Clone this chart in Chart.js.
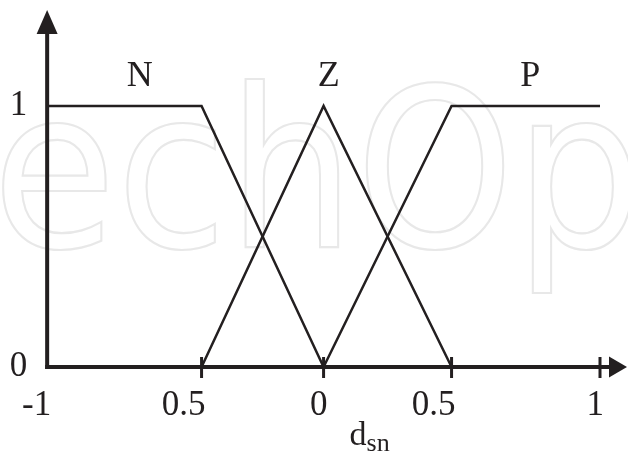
<!DOCTYPE html>
<html>
<head>
<meta charset="utf-8">
<script src="https://cdn.jsdelivr.net/npm/chart.js@4/dist/chart.umd.min.js"></script>
<style>
  html, body { margin: 0; padding: 0; background: #ffffff; }
  #wrap { width: 628px; height: 457px; }
</style>
</head>
<body>
<div id="wrap"><canvas id="c"></canvas></div>
<script>
// Fuzzy membership functions N, Z, P over the normalised distance d_sn
const xTicks = [-1, -0.5, 0, 0.5, 1];
const xTickLabels = ['-1', '0.5', '0', '0.5', '1'];
const yTicks = [0, 1];
const yTickLabels = ['0', '1'];

const setNames = ['N', 'Z', 'P'];
const nX = [-1, -0.5, 0];
const nY = [1, 1, 0];
const zX = [-0.5, 0, 0.5];
const zY = [0, 1, 0];
const pX = [0, 0.5, 1];
const pY = [0, 1, 1];

// Where each set's name sits along the axis (data units)
const nameAt = [-0.70, 0.02, 0.765];

// The hand-drawn axis does not space its ticks evenly; fraction of the
// axis length at which each entry of xTicks is placed.
const tickPlacement = [0, 0.2793, 0.5, 0.7315, 1];

const INK = '#231f20';
const SERIF = '"Liberation Serif", "Times New Roman", serif';

const LinearBase = Chart.LinearScale || Chart.registry.getScale('linear');

class SketchAxisScale extends LinearBase {
  static id = 'sketchAxis';
  static defaults = LinearBase.defaults;

  _toDecimal(value) {
    const v = xTicks, f = tickPlacement, n = v.length - 1;
    let i = 0;
    while (i < n - 1 && value > v[i + 1]) i++;
    const t = (value - v[i]) / (v[i + 1] - v[i]);
    return f[i] + t * (f[i + 1] - f[i]);
  }
  _fromDecimal(dec) {
    const v = xTicks, f = tickPlacement, n = v.length - 1;
    let i = 0;
    while (i < n - 1 && dec > f[i + 1]) i++;
    const t = (dec - f[i]) / (f[i + 1] - f[i]);
    return v[i] + t * (v[i + 1] - v[i]);
  }
  getPixelForValue(value) {
    if (value === null || value === undefined) return NaN;
    return this.getPixelForDecimal(this._toDecimal(value));
  }
  getValueForPixel(pixel) {
    return this._fromDecimal(this.getDecimalForPixel(pixel));
  }
}
Chart.register(SketchAxisScale);

const toPoints = (xs, ys) => xs.map((x, i) => ({ x: x, y: ys[i] }));

// Faint outlined lettering behind the plot
const backdropLettering = {
  id: 'backdropLettering',
  beforeDraw(chart) {
    const ctx = chart.ctx;
    ctx.save();
    ctx.translate(-8, 247);
    ctx.scale(0.91, 1);
    ctx.font = '222px "DejaVu Sans"';
    ctx.textBaseline = 'alphabetic';
    ctx.strokeStyle = '#e8e8e8';
    ctx.lineWidth = 2.2;
    ctx.strokeText('echOpen', 0, 0);
    ctx.restore();
  }
};

// Arrowed axes, tick marks, set names and the axis title
const sketchAxes = {
  id: 'sketchAxes',
  afterDatasetsDraw(chart) {
    const { ctx, scales: { x, y } } = chart;
    const ox = x.getPixelForValue(xTicks[0]);
    const oy = y.getPixelForValue(yTicks[0]);
    const topY = 10;
    const rightX = chart.width - 1;

    ctx.save();
    ctx.strokeStyle = INK;
    ctx.fillStyle = INK;
    ctx.lineCap = 'butt';

    // vertical axis with arrow
    ctx.lineWidth = 4;
    ctx.beginPath();
    ctx.moveTo(ox, oy + 2);
    ctx.lineTo(ox, topY + 22);
    ctx.stroke();
    ctx.beginPath();
    ctx.moveTo(ox, topY);
    ctx.lineTo(ox - 10.5, topY + 24);
    ctx.lineTo(ox + 10.5, topY + 24);
    ctx.closePath();
    ctx.fill();

    // horizontal axis with arrow
    ctx.beginPath();
    ctx.moveTo(ox - 2, oy);
    ctx.lineTo(rightX - 16, oy);
    ctx.stroke();
    ctx.beginPath();
    ctx.moveTo(rightX, oy);
    ctx.lineTo(rightX - 18, oy - 10.5);
    ctx.lineTo(rightX - 18, oy + 10.5);
    ctx.closePath();
    ctx.fill();

    // tick marks crossing the horizontal axis
    ctx.lineWidth = 3;
    xTicks.slice(1).forEach(v => {
      const px = x.getPixelForValue(v);
      ctx.beginPath();
      ctx.moveTo(px, oy - 10);
      ctx.lineTo(px, oy + 11);
      ctx.stroke();
    });

    // set names above the unit level
    ctx.font = '36px ' + SERIF;
    ctx.textAlign = 'center';
    ctx.textBaseline = 'middle';
    const nameY = y.getPixelForValue(1) - 29;
    setNames.forEach((name, i) => {
      ctx.fillText(name, x.getPixelForValue(nameAt[i]), nameY);
    });

    // axis title d_sn
    const mainFont = '34px ' + SERIF;
    const subFont = '26px ' + SERIF;
    ctx.textBaseline = 'alphabetic';
    ctx.textAlign = 'left';
    ctx.font = mainFont;
    const wd = ctx.measureText('d').width;
    ctx.font = subFont;
    const ws = ctx.measureText('sn').width;
    const cx = (chart.chartArea.left + chart.chartArea.right) / 2 + 46;
    const sx = cx - (wd + ws) / 2;
    ctx.font = mainFont;
    ctx.fillText('d', sx, oy + 78);
    ctx.font = subFont;
    ctx.fillText('sn', sx + wd, oy + 84);

    ctx.restore();
  }
};

const lineStyle = {
  borderColor: INK,
  borderWidth: 2.5,
  pointRadius: 0,
  tension: 0,
  fill: false,
  clip: false
};

new Chart(document.getElementById('c'), {
  type: 'line',
  data: {
    datasets: [
      Object.assign({ label: setNames[0], data: toPoints(nX, nY) }, lineStyle),
      Object.assign({ label: setNames[1], data: toPoints(zX, zY) }, lineStyle),
      Object.assign({ label: setNames[2], data: toPoints(pX, pY) }, lineStyle)
    ]
  },
  options: {
    responsive: true,
    maintainAspectRatio: false,
    animation: false,
    events: [],
    layout: { padding: { top: 106, right: 28, left: 0, bottom: 0 } },
    plugins: {
      legend: { display: false },
      tooltip: { enabled: false }
    },
    scales: {
      x: {
        type: 'sketchAxis',
        min: -1,
        max: 1,
        afterBuildTicks: s => { s.ticks = xTicks.map(v => ({ value: v })); },
        afterFit: s => { s.height = 90; },
        grid: { display: false, drawTicks: false },
        border: { display: false },
        ticks: {
          autoSkip: false,
          maxRotation: 0,
          align: 'end',
          labelOffset: 4,
          padding: 18,
          color: INK,
          font: { family: SERIF, size: 35 },
          callback: (v, i) => xTickLabels[i]
        }
      },
      y: {
        type: 'linear',
        min: 0,
        max: 1,
        afterBuildTicks: s => { s.ticks = yTicks.map(v => ({ value: v })); },
        afterFit: s => { s.width = 45; },
        grid: { display: false, drawTicks: false },
        border: { display: false },
        ticks: {
          padding: 20,
          color: INK,
          font: { family: SERIF, size: 35 },
          callback: (v, i) => yTickLabels[i]
        }
      }
    }
  },
  plugins: [backdropLettering, sketchAxes]
});
</script>
</body>
</html>
